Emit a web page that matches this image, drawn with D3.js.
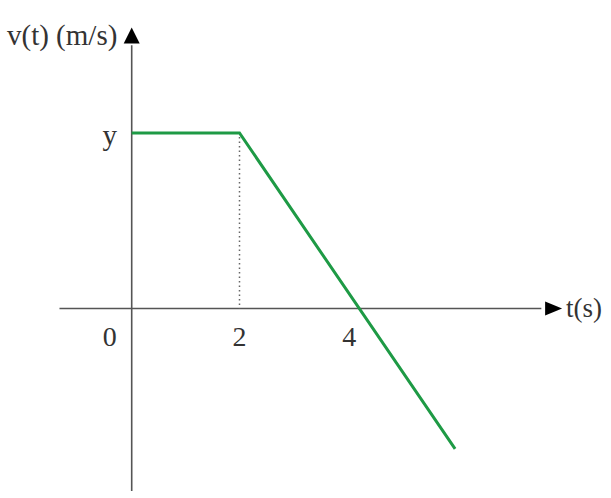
<!DOCTYPE html>
<html>
<head>
<meta charset="utf-8">
<script src="https://cdn.jsdelivr.net/npm/d3@7"></script>
<style>
  body { margin: 0; background: #fff; }
  text { font-family: "Liberation Serif", "DejaVu Serif", serif; fill: #333; }
</style>
</head>
<body>
<svg id="chart"></svg>
<script>
// Velocity profile, in units of y (the constant speed)
const times = [0, 2, 6];
const speeds = [1, 1, -0.8];
const tickTimes = [0, 2, 4];
const tickLabels = ['0', '2', '4'];
const yLevel = 1;

const W = 611, H = 498;

const svg = d3.select('#chart')
    .attr('width', W)
    .attr('height', H);

// t: 0 -> 131.7, 2 -> 239.5
const x = d3.scaleLinear().domain([0, 2]).range([131.7, 239.5]);
// v: 0 -> 308.5, 1 -> 133
const y = d3.scaleLinear().domain([0, 1]).range([308.5, 133]);

const axisColor = '#555';

// x axis
svg.append('line')
    .attr('x1', x(-1.34)).attr('x2', x(7.6))
    .attr('y1', y(0)).attr('y2', y(0))
    .attr('stroke', axisColor).attr('stroke-width', 1.6);
svg.append('path')
    .attr('d', `M${x(7.67)},${y(0) - 7} L${x(7.67) + 17},${y(0)} L${x(7.67)},${y(0) + 7} Z`)
    .attr('fill', '#000');

// y axis
svg.append('line')
    .attr('x1', x(0)).attr('x2', x(0))
    .attr('y1', y(-1.04)).attr('y2', y(1.5))
    .attr('stroke', axisColor).attr('stroke-width', 1.6);
svg.append('path')
    .attr('d', `M${x(0) - 8},${y(1.51)} L${x(0)},${y(1.51) - 16} L${x(0) + 8},${y(1.51)} Z`)
    .attr('fill', '#000');

// dotted guide at t = 2
svg.append('line')
    .attr('x1', x(2)).attr('x2', x(2))
    .attr('y1', y(1) + 4).attr('y2', y(0))
    .attr('stroke', '#666').attr('stroke-width', 1.5)
    .attr('stroke-dasharray', '1.5,3');

// velocity line
const pts = times.map((t, i) => [t, speeds[i]]);
svg.append('path')
    .datum(pts)
    .attr('d', d3.line().x(d => x(d[0])).y(d => y(d[1])))
    .attr('fill', 'none')
    .attr('stroke', '#1e9a45')
    .attr('stroke-width', 3);

// tick labels
svg.selectAll('.tick-label')
    .data(tickTimes)
    .enter()
    .append('text')
    .attr('class', 'tick-label')
    .attr('x', (d, i) => i === 0 ? x(d) - 22 : x(d) + (d === 4 ? 2 : 0))
    .attr('y', y(0) + 37)
    .attr('text-anchor', 'middle')
    .style('font-size', '28px')
    .text((d, i) => tickLabels[i]);

// y level label
svg.append('text')
    .attr('x', x(0) - 22)
    .attr('y', y(yLevel) + 12)
    .attr('text-anchor', 'middle')
    .style('font-size', '29px')
    .text('y');

// axis titles
svg.append('text')
    .attr('x', 7)
    .attr('y', 45)
    .style('font-size', '29px')
    .text('v(t) (m/s)');

svg.append('text')
    .attr('x', 566)
    .attr('y', 317)
    .style('font-size', '27px')
    .text('t(s)');
</script>
</body>
</html>
